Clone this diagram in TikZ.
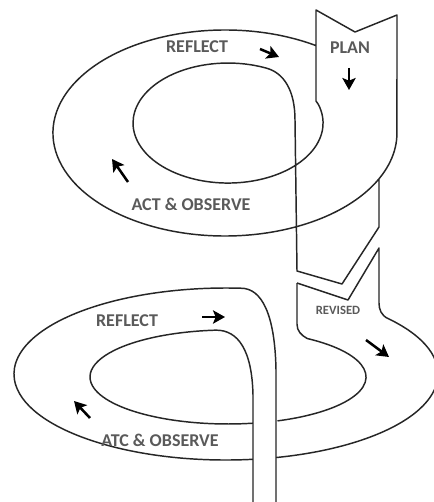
\documentclass[tikz,border=0pt]{standalone}
\usepackage{fontspec}
\setmainfont{Carlito}
\usetikzlibrary{arrows.meta}
\definecolor{labelgray}{HTML}{5A5A5A}
\tikzset{
  edge/.style={line width=1.1pt, draw=black!85, line join=round},
  flow/.style={line width=1.9pt, draw=black, -{Stealth[length=9pt,width=10pt,inset=2pt]}},
  lab/.style={font=\fontsize{13.5}{14}\selectfont\bfseries, text=labelgray, inner sep=0pt},
  smalllab/.style={font=\fontsize{9.5}{10}\selectfont\bfseries, text=labelgray, inner sep=0pt}
}
\begin{document}
\begin{tikzpicture}[x=0.75pt,y=-0.75pt]
\useasboundingbox[fill=white] (0,0) rectangle (433,502);

% ---------- upper spiral with PLAN strip ----------
\draw[edge] (316.1,45.65)
  arc[start angle=-58,end angle=-360,x radius=172,y radius=103]
  -- (397,15) -- (355,32) -- (316,10) -- (316,101) -- (318.4,104.5)
  arc[start angle=-18,end angle=294,x radius=95,y radius=60]
  .. controls (283.6,73) and (295,90) .. (295,120)
  -- (297,271) -- (342,284) -- (379,227) -- (379,179.5);

% ---------- lower spiral with REVISED strip ----------
\draw[edge] (297,283) -- (348,300) -- (379,248) -- (379,303)
  .. controls (379,309) and (381,315.6) .. (388.4,318.7)
  arc[start angle=-40,end angle=76.3,x radius=212,y radius=86];
\draw[edge] (297,283) -- (297,324)
  .. controls (297,331) and (301,335) .. (307.2,338.5)
  arc[start angle=-55,end angle=69,x radius=138,y radius=47];
\draw[edge] (252.9,459.3)
  arc[start angle=82.7,end angle=274,x radius=212,y radius=86]
  .. controls (262,288) and (275,315) .. (276,370) -- (276,502);
\draw[edge] (252.9,423.2)
  arc[start angle=79.6,end angle=265,x radius=138,y radius=47]
  .. controls (238,330) and (252,350) .. (253,395) -- (253,502);

% ---------- labels ----------
\node[lab] (reflectA) at (197,47) {REFLECT};
\node[lab] (plan) at (350,48) {PLAN};
\node[lab] (actA) at (191,204) {ACT \& OBSERVE};
\node[lab] (reflectB) at (127,321) {REFLECT};
\node[lab] (actB) at (160,440) {ATC \& OBSERVE};
\node[smalllab] (revised) at (338,310) {REVISED};

% ---------- direction arrows ----------
\coordinate (a1s) at (260,49);  \coordinate (a1e) at (279,57);
\coordinate (a2s) at (349,68);  \coordinate (a2e) at (349,90);
\coordinate (a3s) at (128,182); \coordinate (a3e) at (112,159);
\coordinate (a4s) at (202,317); \coordinate (a4e) at (225,317);
\coordinate (a5s) at (90,418);  \coordinate (a5e) at (74,401);
\coordinate (a6s) at (366,340); \coordinate (a6e) at (389,357);
\draw[flow] (a1s) -- (a1e);
\draw[flow] (a2s) -- (a2e);
\draw[flow] (a3s) -- (a3e);
\draw[flow] (a4s) -- (a4e);
\draw[flow] (a5s) -- (a5e);
\draw[flow] (a6s) -- (a6e);
\end{tikzpicture}
\end{document}
